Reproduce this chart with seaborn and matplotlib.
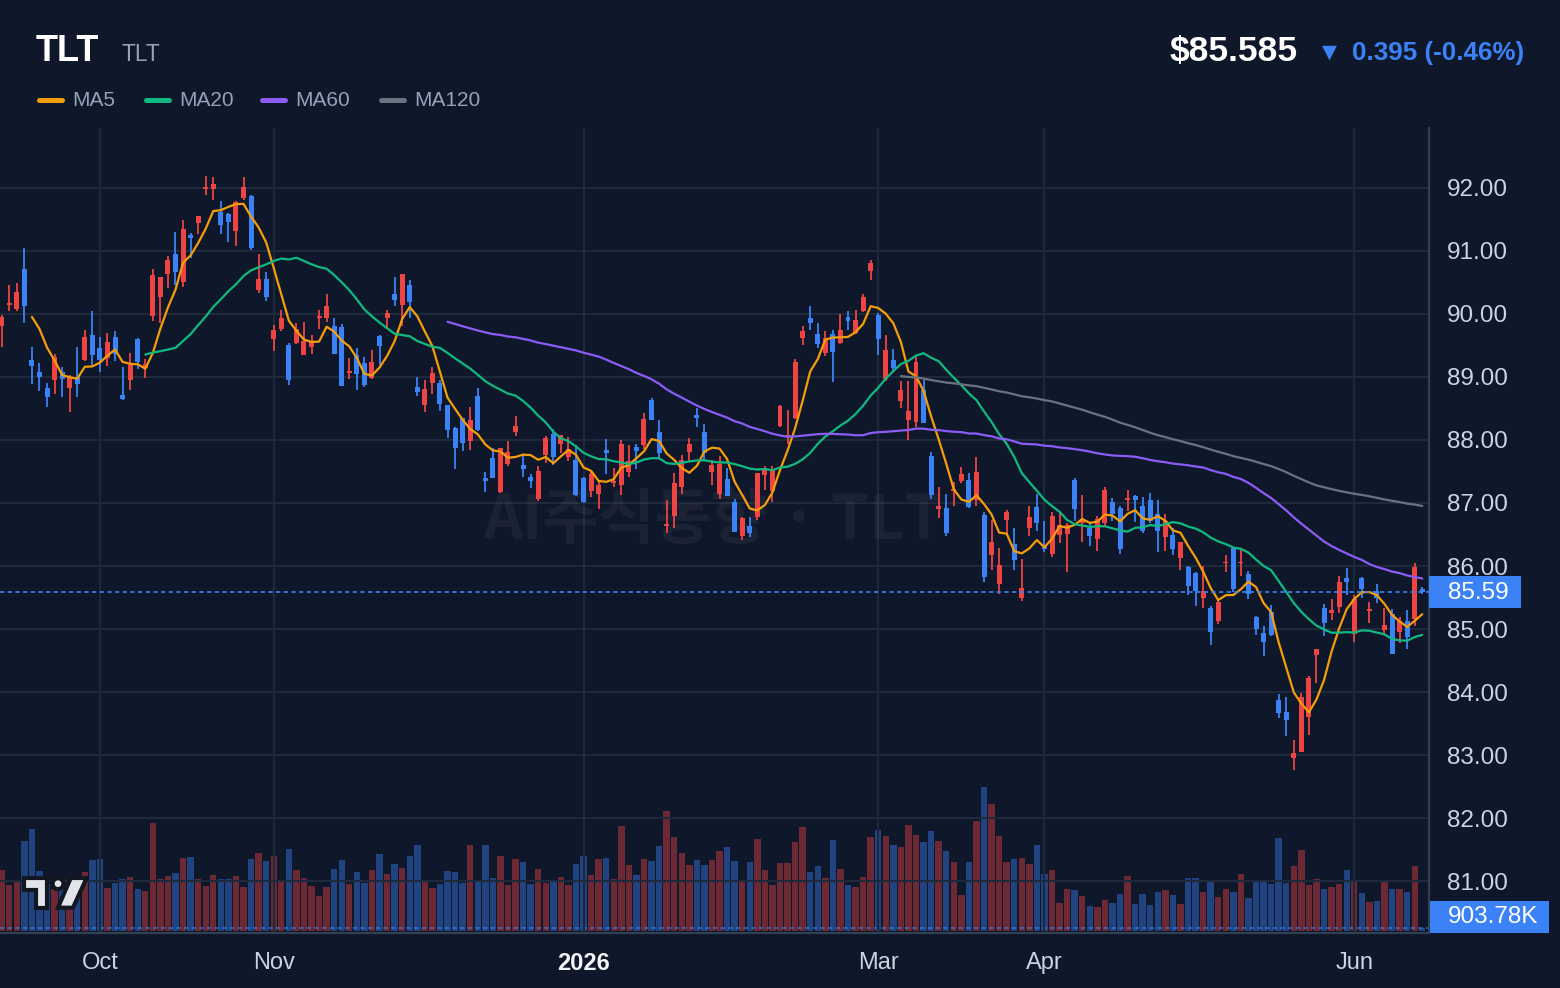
import numpy as np
import pandas as pd
import seaborn as sns
import matplotlib.pyplot as plt
from matplotlib.lines import Line2D
from matplotlib.patches import Rectangle, Polygon, Circle
from matplotlib.transforms import blended_transform_factory

# daily candles, Sep 12 2025 .. Jun 12 2026 (trading-day index)
opens = [89.81, 90.14, 90.08, 90.71, 89.27, 89.08, 88.83, 88.96, 89.08, 88.83,
         89.00, 89.27, 89.67, 89.46, 89.30, 89.63, 88.71, 88.96, 89.60, 89.14,
         89.97, 90.27, 90.64, 90.95, 90.51, 91.25, 91.44, 91.98, 91.98, 91.62,
         91.59, 91.31, 91.84, 91.87, 90.38, 90.56, 89.60, 89.76, 89.51, 89.54,
         89.35, 89.48, 89.94, 89.94, 89.81, 89.79, 89.06, 89.35, 89.22, 88.98,
         89.65, 89.94, 90.32, 90.14, 90.46, 88.84, 88.56, 88.90, 88.90, 88.56,
         88.19, 88.35, 87.98, 88.70, 87.39, 87.71, 87.17, 87.62, 88.12, 87.60,
         87.42, 87.07, 87.76, 88.10, 87.94, 87.73, 87.68, 87.40, 87.19, 87.14,
         87.84, 87.32, 87.29, 87.49, 87.89, 87.92, 88.63, 88.13, 86.63, 86.80,
         87.26, 87.81, 88.40, 88.12, 87.49, 87.14, 87.38, 87.02, 86.48, 86.63,
         86.78, 87.45, 87.19, 88.22, 88.05, 88.35, 89.62, 89.94, 89.68, 89.38,
         89.69, 89.54, 89.95, 89.70, 90.04, 90.68, 89.98, 88.97, 89.27, 88.62,
         88.31, 88.29, 88.80, 87.75, 86.90, 86.92, 87.19, 87.35, 87.37, 87.05,
         86.81, 86.18, 85.71, 86.73, 86.35, 85.49, 86.61, 86.94, 86.29, 86.19,
         86.50, 86.51, 87.37, 86.69, 86.60, 86.43, 86.69, 87.02, 86.92, 87.04,
         87.11, 86.96, 87.05, 86.83, 86.46, 86.49, 86.12, 85.99, 85.89, 85.50,
         85.34, 85.13, 86.04, 86.29, 86.04, 85.88, 85.19, 84.93, 85.27, 83.87,
         83.69, 82.96, 83.05, 83.61, 84.59, 85.33, 85.25, 85.35, 85.81, 84.92,
         85.81, 85.28, 85.61, 84.98, 85.24, 84.96, 85.12, 85.16, 85.64]
highs = [89.98, 90.46, 90.49, 91.05, 89.48, 89.22, 88.90, 89.36, 89.16, 89.03,
         89.48, 89.75, 90.05, 89.63, 89.70, 89.73, 89.16, 89.38, 89.62, 89.29,
         90.71, 90.59, 90.92, 91.30, 91.49, 91.29, 91.56, 92.19, 92.17, 91.79,
         91.60, 91.79, 92.17, 91.89, 90.96, 90.67, 89.83, 90.06, 89.54, 89.86,
         89.87, 89.67, 90.06, 90.32, 89.94, 89.84, 89.30, 89.46, 89.32, 89.43,
         89.67, 90.06, 90.59, 90.63, 90.54, 89.00, 88.95, 89.16, 88.95, 88.56,
         88.21, 88.35, 88.52, 88.83, 87.49, 87.88, 87.88, 87.98, 88.38, 87.77,
         87.46, 87.59, 88.07, 88.17, 88.08, 88.04, 87.92, 87.41, 87.52, 87.34,
         88.01, 87.56, 88.00, 87.92, 87.93, 88.43, 88.67, 88.32, 87.04, 87.47,
         87.76, 88.03, 88.50, 88.25, 87.69, 87.75, 87.56, 87.07, 86.78, 86.78,
         87.47, 87.58, 87.58, 88.55, 88.48, 89.29, 89.81, 90.13, 89.86, 89.73,
         89.75, 90.00, 90.04, 90.07, 90.32, 90.86, 90.01, 89.66, 89.44, 88.93,
         88.93, 89.31, 88.95, 87.81, 87.25, 87.14, 87.34, 87.57, 87.47, 87.73,
         86.86, 86.73, 86.29, 86.89, 86.61, 86.11, 86.95, 87.15, 86.72, 86.86,
         86.86, 86.68, 87.39, 87.12, 86.68, 86.80, 87.25, 87.08, 86.96, 87.21,
         87.13, 87.09, 87.16, 87.05, 86.83, 86.61, 86.38, 86.00, 85.90, 86.00,
         85.37, 85.48, 86.18, 86.29, 86.29, 85.92, 85.21, 85.05, 85.38, 83.97,
         83.92, 83.24, 83.99, 84.25, 84.68, 85.39, 85.47, 85.84, 85.97, 85.54,
         85.83, 85.43, 85.71, 85.34, 85.32, 85.19, 85.30, 86.04, 85.66]
lows = [89.48, 90.05, 90.04, 89.86, 88.89, 88.78, 88.53, 88.73, 88.69, 88.45,
        88.69, 89.25, 89.19, 89.08, 89.18, 89.25, 88.64, 88.80, 89.12, 88.99,
        89.89, 89.85, 90.42, 90.46, 90.43, 90.89, 91.27, 91.89, 91.81, 91.27,
        91.15, 91.08, 91.81, 91.02, 90.34, 90.20, 89.41, 89.73, 88.87, 89.52,
        89.35, 89.37, 89.76, 89.87, 89.37, 88.86, 88.97, 88.79, 88.84, 88.97,
        89.19, 89.76, 90.13, 89.81, 89.94, 88.70, 88.44, 88.73, 88.46, 88.03,
        87.54, 87.83, 87.84, 88.14, 87.18, 87.39, 87.16, 87.58, 88.07, 87.41,
        87.24, 87.03, 87.64, 87.60, 87.79, 87.67, 87.11, 87.00, 87.10, 86.90,
        87.46, 87.25, 87.12, 87.41, 87.54, 87.86, 88.31, 87.70, 86.53, 86.61,
        87.14, 87.67, 88.20, 87.68, 87.28, 87.07, 87.11, 86.54, 86.41, 86.46,
        86.73, 87.20, 87.02, 88.21, 87.93, 88.33, 89.50, 89.75, 89.46, 89.34,
        88.92, 89.52, 89.75, 89.69, 90.03, 90.54, 89.35, 88.93, 89.10, 88.50,
        88.00, 88.20, 88.27, 87.07, 86.76, 86.47, 86.96, 87.31, 86.92, 86.95,
        85.75, 85.93, 85.56, 86.47, 85.93, 85.45, 86.48, 86.56, 86.22, 86.15,
        86.37, 85.90, 86.71, 86.38, 86.32, 86.24, 86.62, 86.72, 86.19, 86.88,
        86.70, 86.53, 86.69, 86.23, 86.24, 86.18, 85.93, 85.54, 85.37, 85.33,
        84.75, 85.08, 85.90, 85.58, 85.84, 85.48, 84.91, 84.57, 84.89, 83.58,
        83.30, 82.77, 83.04, 83.32, 84.14, 84.89, 85.14, 85.26, 85.54, 84.79,
        85.50, 85.10, 85.42, 84.91, 84.61, 84.77, 84.69, 85.04, 85.56]
closes = [89.96, 90.16, 90.35, 90.12, 89.18, 89.00, 88.69, 89.32, 88.97, 89.00,
          88.89, 89.63, 89.35, 89.27, 89.56, 89.37, 88.65, 89.19, 89.24, 89.21,
          90.62, 90.58, 90.86, 90.66, 91.35, 91.20, 91.56, 92.00, 92.06, 91.42,
          91.46, 91.78, 92.02, 91.05, 90.56, 90.27, 89.75, 89.94, 88.95, 89.76,
          89.57, 89.56, 89.97, 90.13, 89.37, 88.86, 89.10, 89.05, 88.87, 89.24,
          89.49, 90.02, 90.22, 90.63, 90.19, 88.76, 88.81, 89.06, 88.57, 88.16,
          87.87, 87.95, 88.32, 88.16, 87.35, 87.39, 87.88, 87.81, 88.22, 87.54,
          87.35, 87.51, 88.03, 87.73, 88.08, 87.86, 87.13, 87.02, 87.46, 87.28,
          87.79, 87.34, 87.94, 87.66, 87.82, 88.34, 88.31, 87.80, 86.66, 87.31,
          87.69, 87.94, 88.35, 87.80, 87.61, 87.62, 87.11, 86.54, 86.76, 86.53,
          87.47, 87.54, 87.54, 88.54, 88.07, 89.24, 89.73, 89.86, 89.52, 89.62,
          89.40, 89.75, 89.89, 89.90, 90.27, 90.81, 89.61, 89.43, 89.14, 88.79,
          88.46, 89.24, 88.27, 87.12, 86.96, 86.53, 87.21, 87.46, 86.93, 87.49,
          85.83, 86.38, 86.02, 86.85, 86.10, 85.65, 86.78, 86.68, 86.27, 86.79,
          86.65, 86.65, 86.91, 86.73, 86.48, 86.75, 87.21, 86.83, 86.27, 87.08,
          87.04, 86.56, 86.72, 86.55, 86.72, 86.27, 86.38, 85.69, 85.61, 85.61,
          84.96, 85.43, 86.07, 85.63, 86.07, 85.56, 85.00, 84.80, 84.91, 83.66,
          83.56, 83.03, 83.92, 84.22, 84.68, 85.10, 85.30, 85.75, 85.75, 85.48,
          85.64, 85.31, 85.50, 85.06, 84.61, 85.12, 84.88, 85.98, 85.585]
# volume in millions of shares
volumes = [18.2, 13.7, 14.6, 26.9, 30.5, 17.9, 14.0, 12.5, 15.5, 13.0,
           14.5, 17.6, 21.2, 21.5, 12.8, 14.3, 15.5, 16.1, 12.5, 11.9,
           32.3, 15.5, 16.4, 17.3, 21.8, 22.1, 15.5, 13.4, 16.7, 15.5,
           15.5, 16.4, 13.1, 21.5, 23.3, 20.9, 22.4, 14.6, 24.5, 18.2,
           15.8, 13.4, 10.4, 13.1, 18.5, 21.2, 14.0, 17.6, 14.3, 18.2,
           23.0, 17.0, 20.0, 18.8, 22.4, 25.7, 15.2, 12.8, 14.0, 17.9,
           17.6, 14.3, 25.7, 14.6, 25.7, 15.8, 22.4, 13.7, 21.5, 20.6,
           14.0, 18.5, 14.3, 14.6, 16.1, 13.7, 20.0, 22.4, 16.7, 21.5,
           21.8, 15.5, 31.4, 19.7, 16.7, 21.5, 20.9, 25.4, 35.9, 28.1,
           23.3, 19.7, 21.2, 19.7, 21.2, 23.9, 25.1, 20.9, 15.2, 20.6,
           27.5, 18.2, 13.7, 20.3, 20.3, 26.6, 31.1, 17.6, 19.4, 15.8,
           27.2, 18.5, 13.7, 13.1, 16.1, 28.1, 30.2, 28.4, 25.7, 25.1,
           31.7, 28.7, 26.6, 29.9, 26.9, 23.9, 20.6, 10.7, 20.6, 32.9,
           43.1, 38.0, 28.4, 20.6, 21.5, 21.8, 20.0, 25.7, 17.0, 18.2,
           8.3, 12.5, 12.2, 10.4, 7.4, 7.1, 9.2, 8.3, 11.0, 16.4,
           8.0, 11.0, 7.7, 11.6, 12.2, 10.7, 8.0, 15.8, 15.8, 11.6,
           14.9, 10.1, 12.5, 11.6, 17.0, 9.8, 15.2, 14.6, 14.0, 27.8,
           14.3, 19.4, 24.2, 13.7, 15.5, 12.5, 13.1, 14.0, 18.2, 14.6,
           11.3, 8.6, 8.9, 14.6, 12.5, 12.5, 11.6, 19.4, 0.90378]

month_pos = [13, 36, 77, 116, 138, 179]
month_labels = ['Oct', 'Nov', '2026', 'Mar', 'Apr', 'Jun']
price_ticks = [81, 82, 83, 84, 85, 86, 87, 88, 89, 90, 91, 92]
ma_windows = [5, 20, 60, 120]
ma_colors = ['#f59e0b', '#10b981', '#8b5cf6', '#6b7280']

ticker = 'TLT'
last_label = '85.59'
vol_label = '903.78K'
change_text = '0.395 (-0.46%)'

BG = '#0f172a'
GRID = '#1e293b'
UP = '#ef4444'
DOWN = '#3b82f6'
TXT = '#cbd5e1'
MUTED = '#94a3b8'

sns.set_theme(style='dark', rc={'axes.facecolor': BG, 'figure.facecolor': BG})
plt.rcParams['font.family'] = ['Liberation Sans', 'DejaVu Sans']

df = pd.DataFrame({'open': opens, 'high': highs, 'low': lows,
                   'close': closes, 'volume': volumes})
df['i'] = np.arange(len(df))
for w in ma_windows:
    df[f'MA{w}'] = df['close'].rolling(w).mean()
up = df['close'] >= df['open']
cols = np.where(up, UP, DOWN)

W, H = 1560, 988
fig = plt.figure(figsize=(W / 100, H / 100), dpi=100, facecolor=BG)
ax = fig.add_axes([0, 1 - 933 / H, 1429 / W, 805 / H])
axv = ax.twinx()
ax.set_zorder(2)
axv.set_zorder(1)
ax.patch.set_visible(False)
axv.patch.set_facecolor(BG)

# volume bars behind the price pane
axv.bar(df['i'], df['volume'], width=0.85, color=cols, alpha=0.42, linewidth=0)
axv.axhline(volumes[-1], color=DOWN, lw=1.2, dashes=(2.6, 2.0), alpha=0.7)
axv.set_ylim(-0.69, 240.8)
axv.set_yticks([])
for s in axv.spines.values():
    s.set_visible(False)

# watermark
ax.text(0.499, 0.512, 'AI주식동향 · TLT', transform=ax.transAxes, ha='center', va='center',
        fontsize=44, fontweight='bold', color='white', alpha=0.05,
        family=['Noto Sans CJK KR', 'DejaVu Sans'], zorder=1)

# candles
ax.vlines(df['i'], df['low'], df['high'], colors=cols, lw=1.3, zorder=3)
body_lo = np.minimum(df['open'], df['close'])
body_h = np.maximum((df['close'] - df['open']).abs(), 0.03)
ax.bar(df['i'], body_h, bottom=body_lo, width=0.66, color=cols, linewidth=0, zorder=4)

for w, c in zip(ma_windows, ma_colors):
    sns.lineplot(data=df, x='i', y=f'MA{w}', ax=ax, color=c, lw=1.6,
                 estimator=None, legend=False, zorder=5)

last = closes[-1]
ax.axhline(last, color=DOWN, lw=1.2, dashes=(2.6, 2.0), zorder=6)

ax.set_xlim(-0.225, 188.89)
ax.set_ylim(80.175, 92.952)
ax.set_xlabel('')
ax.set_ylabel('')
ax.set_yticks(price_ticks, [f'{p:.2f}' for p in price_ticks])
ax.yaxis.tick_right()
ax.set_xticks(month_pos, month_labels)
ax.tick_params(axis='y', length=0, pad=13, labelsize=17.5, labelcolor=TXT)
ax.tick_params(axis='x', length=0, pad=14, labelsize=17, labelcolor=TXT)
for lab in ax.get_xticklabels():
    if lab.get_text() == '2026':
        lab.set_fontweight('bold')
        lab.set_color('#f1f5f9')
ax.grid(True, color=GRID, lw=1.5)
for side in ['top', 'left']:
    ax.spines[side].set_visible(False)
for side in ['right', 'bottom']:
    ax.spines[side].set_color('#334155')
    ax.spines[side].set_linewidth(1.5)

# last price / volume tags on the right scale
tr = blended_transform_factory(ax.transAxes, ax.transData)
ax.add_patch(Rectangle((1.0, last - 16 / 63), 92 / 1429, 32 / 63, transform=tr,
                       clip_on=False, fc=DOWN, ec='none', zorder=10))
ax.text(1 + 19 / 1429, last - 0.02, last_label, transform=tr, ha='left', va='center',
        color='white', fontsize=17.5, zorder=11)
axv.add_patch(Rectangle((1.0, 0), 120 / 1429, 32 / 805, transform=axv.transAxes,
                        clip_on=False, fc=DOWN, ec='none', zorder=10))
axv.text(1 + 19 / 1429, 16 / 805, vol_label, transform=axv.transAxes, ha='left',
         va='center', color='white', fontsize=17.5, zorder=11)

# header
fig.text(36 / W, 1 - 61 / H, ticker, color='white', fontsize=26, fontweight='bold', va='baseline')
fig.text(122 / W, 1 - 61 / H, ticker, color=MUTED, fontsize=16.5, va='baseline')
fig.text(1298 / W, 1 - 61 / H, '$85.585', color='white', fontsize=25.5, fontweight='bold',
         va='baseline', ha='right')
fig.text(1322 / W, 1 - 58 / H, '▼', color=DOWN, fontsize=14, family='DejaVu Sans', va='baseline')
fig.text(1524 / W, 1 - 60 / H, change_text, color=DOWN, fontsize=18.7, fontweight='bold',
         va='baseline', ha='right')

# legend
leg_x = [36, 143, 259, 378]
for x0, w, c in zip(leg_x, ma_windows, ma_colors):
    fig.add_artist(Line2D([(x0 + 2.5) / W, (x0 + 25.5) / W], [1 - 100 / H] * 2, color=c,
                          lw=3.6, solid_capstyle='round', transform=fig.transFigure))
    fig.text((x0 + 36) / W, 1 - 100 / H, f'MA{w}', color=MUTED, fontsize=15, va='center')

# small logo bottom left, above both panes
lax = fig.add_axes([18 / W, 1 - 915 / H, 74 / W, 44 / H])
lax.set_zorder(5)
lax.patch.set_visible(False)
lax.set_xlim(18, 92)
lax.set_ylim(915, 871)
lax.axis('off')
logo_fc, logo_ec = '#e2e4ea', '#131722'
lax.add_patch(Polygon([(23.7, 878), (47, 878), (47, 907.7), (35.6, 907.7), (35.6, 890), (23.7, 890)],
                      fc=logo_fc, ec=logo_ec, lw=3, joinstyle='miter'))
lax.add_patch(Circle((58, 883.7), 5.5, fc=logo_fc, ec=logo_ec, lw=3))
lax.add_patch(Polygon([(58, 907.7), (73, 907.7), (86.6, 878), (70.7, 878)],
                      fc=logo_fc, ec=logo_ec, lw=3))

fig.savefig('out.png', dpi=100, facecolor=BG)
